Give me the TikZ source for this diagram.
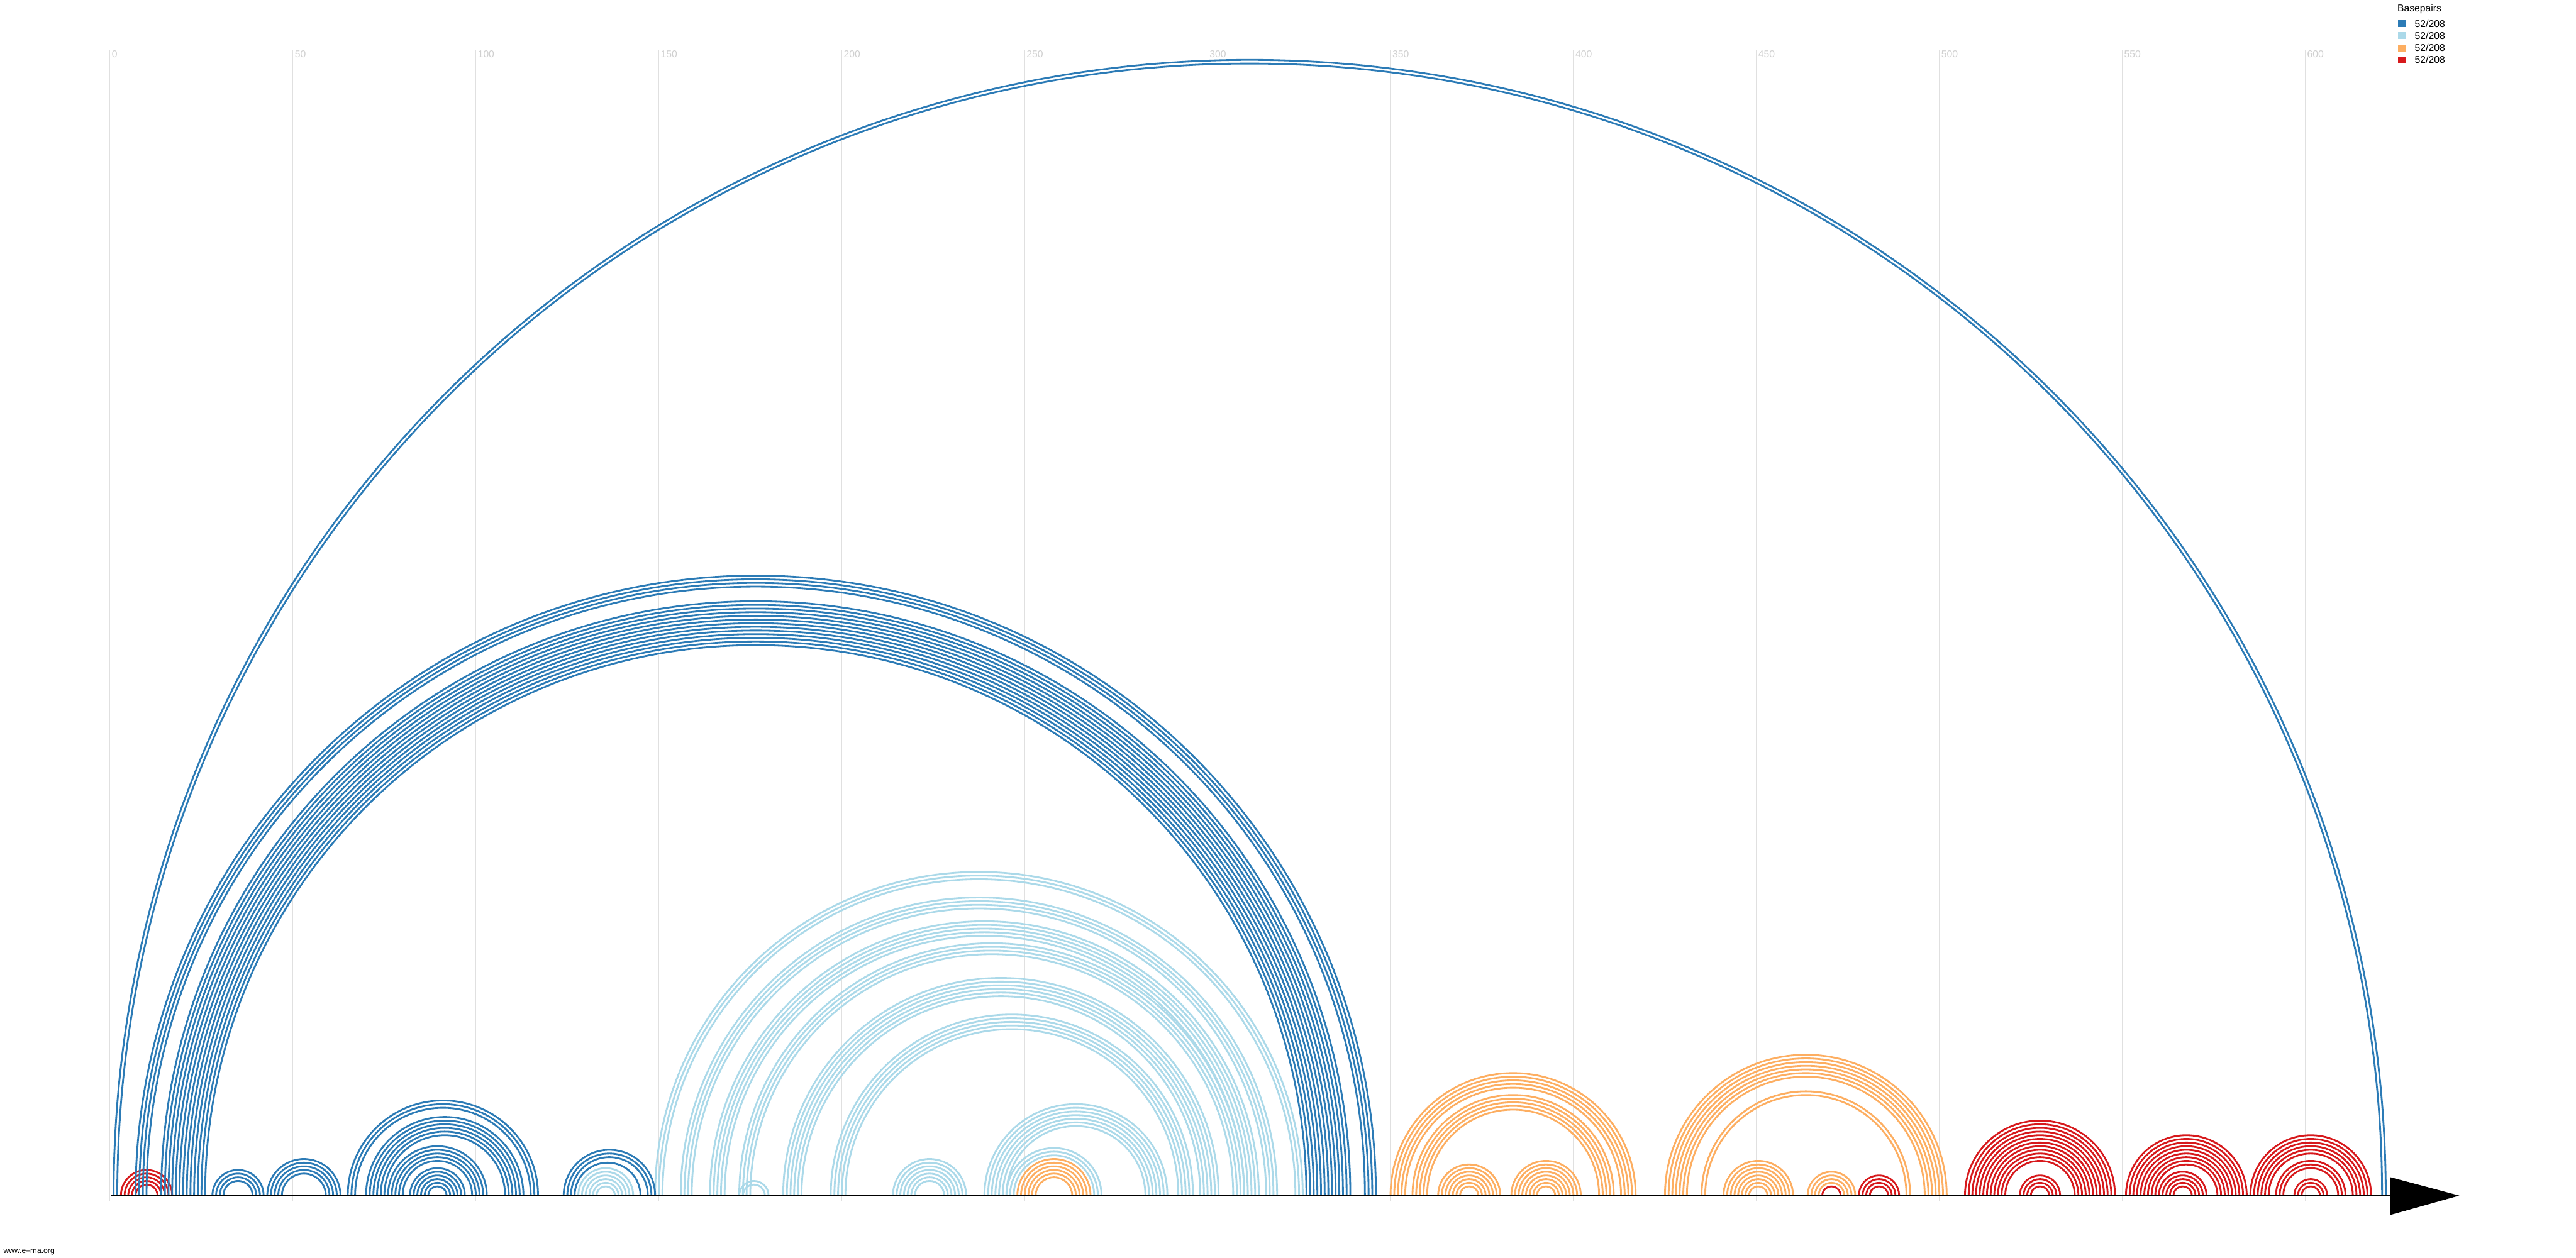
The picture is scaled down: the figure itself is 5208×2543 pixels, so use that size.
\documentclass[tikz,border=0pt]{standalone}
\usepackage{fontspec}
\setmainfont{Liberation Sans}
\definecolor{dkb}{HTML}{2C7BB6}
\definecolor{ltb}{HTML}{ABD9E9}
\definecolor{org}{HTML}{FDAE61}
\definecolor{rdd}{HTML}{D7191C}
\definecolor{gridc}{HTML}{E0E0E0}
\definecolor{labc}{HTML}{D0D0D0}
\newcommand\hlx[4]{%
  \foreach \k in {1,...,#4}{%
    \pgfmathsetmacro\aa{#2+\k-1}%
    \pgfmathsetmacro\rr{(#3-#2)/2-\k+1}%
    \draw[#1] (\aa,0) arc[start angle=180,end angle=0,radius=\rr];
  }}
\begin{document}
\begin{tikzpicture}[x=0.2pt,y=0.2pt,
  arcl/.style={line width=0.72pt},
  gridl/.style={draw=gridc,line width=0.3pt},
  ticklab/.style={text=labc,inner sep=0pt,font=\fontsize{4pt}{4.8pt}\selectfont},
  leglab/.style={inner sep=0pt,font=\fontsize{4pt}{4.8pt}\selectfont}]
\fill[white] (0,0) rectangle (5208,2543);
\useasboundingbox (0,0) rectangle (5208,2543);
% grid and tick labels
\foreach \k in {0,...,12}{%
  \pgfmathsetmacro\gx{222.3+369.85*\k}%
  \pgfmathtruncatemacro\lab{50*\k}%
  \draw[gridl] (\gx,115) -- (\gx,2443);
  \node[ticklab,anchor=north west] (tick\k) at (\gx+3,2441) {\lab};
}
% arcs (nucleotide coordinates)
\begin{scope}[shift={(44.46pt,25pt)},x=1.4794pt,y=1.4794pt]
  % red
  \hlx{rdd,arcl}{3}{17}{5}
  \hlx{rdd,arcl}{468}{473}{1}
  \hlx{rdd,arcl}{478}{489}{4}
  \hlx{rdd,arcl}{507}{548}{12}
  \hlx{rdd,arcl}{522}{533}{4}
  \hlx{rdd,arcl}{551}{584}{9}
  \hlx{rdd,arcl}{560}{573}{5}
  \hlx{rdd,arcl}{585}{618}{6}
  \hlx{rdd,arcl}{592}{611}{3}
  \hlx{rdd,arcl}{597}{606}{3}
  % orange
  \hlx{org,arcl}{248}{268}{6}
  \hlx{org,arcl}{350}{417}{5}
  \hlx{org,arcl}{356}{411}{5}
  \hlx{org,arcl}{363}{380}{7}
  \hlx{org,arcl}{383}{402}{8}
  \hlx{org,arcl}{425}{502}{7}
  \hlx{org,arcl}{435}{492}{2}
  \hlx{org,arcl}{441}{460}{8}
  \hlx{org,arcl}{464}{477}{4}
  % light blue
  \hlx{ltb,arcl}{128}{143}{6}
  \hlx{ltb,arcl}{172}{180}{2}
  \hlx{ltb,arcl}{214}{234}{7}
  \hlx{ltb,arcl}{239}{289}{7}
  \hlx{ltb,arcl}{245}{271}{3}
  \hlx{ltb,arcl}{149}{326}{3}
  \hlx{ltb,arcl}{156}{319}{4}
  \hlx{ltb,arcl}{164}{314}{5}
  \hlx{ltb,arcl}{172}{310}{4}
  \hlx{ltb,arcl}{184}{303}{6}
  \hlx{ltb,arcl}{197}{296}{5}
\end{scope}
\begin{scope}[shift={(44.46pt,25pt)},x=1.4794pt,y=1.4794pt]
  % dark blue
  \hlx{dkb,arcl}{1}{622}{2}
  \hlx{dkb,arcl}{7}{346}{4}
  \hlx{dkb,arcl}{14}{339}{13}
  \hlx{dkb,arcl}{28}{42}{4}
  \hlx{dkb,arcl}{43}{63}{5}
  \hlx{dkb,arcl}{65}{117}{3}
  \hlx{dkb,arcl}{70}{113}{6}
  \hlx{dkb,arcl}{76}{103}{5}
  \hlx{dkb,arcl}{82}{97}{6}
  \hlx{dkb,arcl}{124}{149}{3}
  \hlx{dkb,arcl}{127}{145}{1}
\end{scope}
% axis
\coordinate (ax0) at (224,125);
\coordinate (ax1) at (4834,125);
\draw[line width=0.8pt] (ax0) -- (ax1);
\fill[black] (4833,162) -- (4972,125) -- (4833,86) -- cycle;
% legend
\node[leglab,anchor=base west] (legt) at (4846,2520) {Basepairs};
\fill[dkb] (4848,2488) rectangle (4863,2502);
\fill[ltb] (4848,2464) rectangle (4863,2478);
\fill[org] (4848,2439) rectangle (4863,2453);
\fill[rdd] (4848,2415) rectangle (4863,2429);
\node[leglab,anchor=west] (leg1) at (4881,2495) {52/208};
\node[leglab,anchor=west] (leg2) at (4881,2471) {52/208};
\node[leglab,anchor=west] (leg3) at (4881,2446) {52/208};
\node[leglab,anchor=west] (leg4) at (4881,2422) {52/208};
\node[inner sep=0pt,anchor=base west,font=\fontsize{3.1pt}{3.7pt}\selectfont] (site) at (6,8) {www.e–rna.org};
\end{tikzpicture}
\end{document}
